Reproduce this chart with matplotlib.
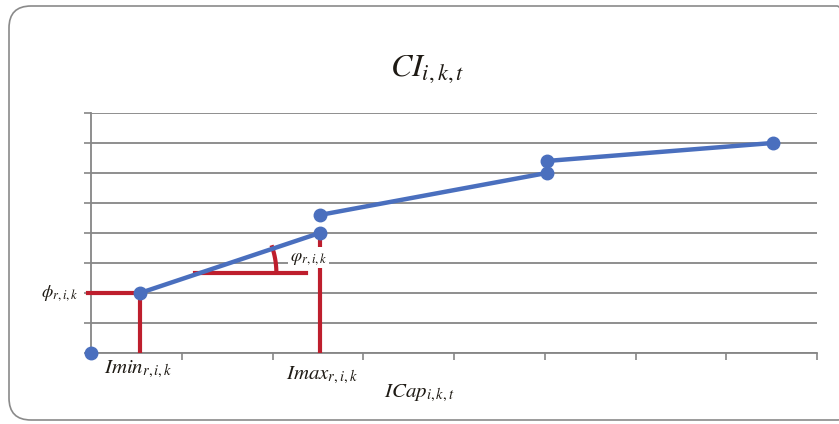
import matplotlib.pyplot as plt
from matplotlib.patches import FancyBboxPatch
import numpy as np

plt.rcParams['mathtext.fontset'] = 'stix'

# curve points (separate segments, the function has jumps)
seg_x = [[0.54, 2.52], [2.52, 5.02], [5.02, 7.51]]
seg_y = [[2.0, 4.0], [4.6, 6.0], [6.4, 7.0]]
origin_x = [0.0]
origin_y = [0.0]

imin_x, imin_y = 0.54, 2.0
imax_x, imax_y = 2.52, 4.0

blue = '#4A6FBE'
red = '#BE1E2D'
grey = '#868686'
txt = '#1E1A14'

fig = plt.figure(figsize=(8.39, 4.24), dpi=100)

# rounded frame around the chart
frame = FancyBboxPatch((0.09, 0.04), 8.5, 4.14, boxstyle='round,pad=0,rounding_size=0.22',
                       transform=fig.dpi_scale_trans, fill=False, edgecolor='#8a8a8a', linewidth=1.2)
fig.patches.append(frame)

ax = fig.add_axes([91 / 839, 1 - 353 / 424, (817 - 91) / 839, 240 / 424])
ax.set_xlim(0, 8)
ax.set_ylim(0, 8)
ax.set_xticks(range(9))
ax.set_yticks(range(9))
ax.set_xticklabels([])
ax.set_yticklabels([])
ax.tick_params(axis='both', color=grey, length=5, width=1.2)
ax.grid(axis='y', color=grey, linewidth=1.3)
ax.set_axisbelow(True)
for s in ['top', 'right']:
    ax.spines[s].set_visible(False)
for s in ['left', 'bottom']:
    ax.spines[s].set_color(grey)
    ax.spines[s].set_linewidth(1.3)

# red helper lines
ax.plot([-0.03, imin_x], [imin_y, imin_y], color=red, linewidth=3, clip_on=False, zorder=3)
ax.plot([imin_x, imin_x], [0, imin_y], color=red, linewidth=3, zorder=3)
ax.plot([imax_x, imax_x], [0, imax_y - 0.15], color=red, linewidth=3, zorder=3)
ax.plot([1.15, 2.37], [2.67, 2.67], color=red, linewidth=3, zorder=3)

# angle arc (computed in pixel space so it stays circular)
cx, cy = 1.15, 2.67
r_px = 81.0
sx, sy = 726 / 8, 240 / 8
ang = np.degrees(np.arctan((2.0 / 1.98) * sy / sx))
t = np.radians(np.linspace(0, ang, 40))
ax.plot(cx + r_px * np.cos(t) / sx, cy + r_px * np.sin(t) / sy, color=red, linewidth=3, zorder=3)

# curve
for xs, ys in zip(seg_x, seg_y):
    ax.plot(xs, ys, color=blue, linewidth=3.2, marker='o', markersize=9, zorder=4)
ax.plot(origin_x, origin_y, color=blue, marker='o', markersize=9, linestyle='none', clip_on=False, zorder=4)

# labels
ax.text(2.19, 3.17, r'$\varphi_{r,i,k}$', fontsize=13, color=txt, ha='left', va='center',
        bbox=dict(facecolor='white', edgecolor='none', pad=1), zorder=5)
ax.text(-0.55, 2.0, r'$\phi_{r,i,k}$', fontsize=13, color=txt, ha='left', va='center', clip_on=False)
ax.text(0.52, -0.55, r'$Imin_{r,i,k}$', fontsize=15, color=txt, ha='center', va='center', clip_on=False)
ax.text(2.55, -0.75, r'$Imax_{r,i,k}$', fontsize=15, color=txt, ha='center', va='center', clip_on=False)
ax.text(3.62, -1.35, r'$ICap_{i,k,t}$', fontsize=15, color=txt, ha='center', va='center', clip_on=False)
ax.text(3.7, 9.45, r'$CI_{i,k,t}$', fontsize=23, color=txt, ha='center', va='center', clip_on=False)

fig.savefig('out.png', dpi=100)
